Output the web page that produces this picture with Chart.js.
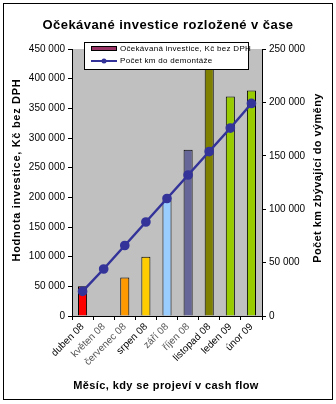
<!DOCTYPE html>
<html>
<head>
<meta charset="utf-8">
<script src="https://cdn.jsdelivr.net/npm/chart.js@4"></script>
<style>
  html, body { margin: 0; padding: 0; background: #fff; }
</style>
</head>
<body>
<canvas id="investChart" width="336" height="404"></canvas>
<script>
// Months when the investment shows up in cash flow
const months = ['duben 08', 'květen 08', 'červenec 08', 'srpen 08', 'září 08', 'říjen 08', 'listopad 08', 'leden 09', 'únor 09'];
// Expected investment per month, CZK without VAT (left axis)
const investment = [50000, null, 65000, 100000, 195000, 280000, 417000, 370000, 380000];
// Kilometres remaining until replacement (right axis)
const kmLeft = [23000, 44000, 66000, 88000, 110000, 132000, 154000, 176000, 199000];

const seriesNames = ['Očekávaná investice, Kč bez DPH', 'Počet km do demontáže'];
const chartTitle = 'Očekávané investice rozložené v čase';
const leftTitle = 'Hodnota investice, Kč bez DPH';
const rightTitle = 'Počet km zbývající do výměny';
const bottomTitle = 'Měsíc, kdy se projeví v cash flow';

const barColors = ['#ff0000', '#ff0000', '#ff9900', '#ffcc00', '#99ccff', '#666699', '#808000', '#99cc00', '#99cc00'];
const FONT = "'Liberation Sans', Arial, sans-serif";

function fmt(v) {
    return String(v).replace(/\B(?=(\d{3})+(?!\d))/g, ' ');
}

function spacedText(ctx, text, x, y, spacing) {
    ctx.letterSpacing = spacing + 'px';
    ctx.fillText(text, x, y);
    ctx.letterSpacing = '0px';
}

// Background, frame, titles and the legend box
const decor = {
    id: 'decor',
    beforeDraw(chart) {
        const { ctx, chartArea: a } = chart;
        ctx.save();
        ctx.fillStyle = '#fff';
        ctx.fillRect(0, 0, chart.width, chart.height);
        ctx.fillStyle = '#c0c0c0';
        ctx.fillRect(a.left, a.top, a.right - a.left, a.bottom - a.top);
        ctx.restore();
    },
    afterDraw(chart) {
        const { ctx } = chart;
        ctx.save();

        // outer frame
        ctx.strokeStyle = '#000';
        ctx.lineWidth = 1;
        ctx.strokeRect(3.5, 3.5, 329, 396);

        // chart title
        ctx.fillStyle = '#000';
        ctx.textAlign = 'center';
        ctx.textBaseline = 'middle';
        ctx.font = 'bold 13px ' + FONT;
        spacedText(ctx, chartTitle, 168, 25, 0.45);

        // axis titles, the vertical ones read bottom to top
        ctx.font = 'bold 11px ' + FONT;
        spacedText(ctx, bottomTitle, 166, 386, 0.4);
        ctx.save();
        ctx.translate(17, 170);
        ctx.rotate(-Math.PI / 2);
        spacedText(ctx, leftTitle, 0, 0, 0.7);
        ctx.restore();
        ctx.save();
        ctx.translate(318, 178);
        ctx.rotate(-Math.PI / 2);
        spacedText(ctx, rightTitle, 0, 0, 0.4);
        ctx.restore();

        // legend
        ctx.fillStyle = '#fff';
        ctx.fillRect(84.5, 42.5, 164, 27);
        ctx.strokeRect(84.5, 42.5, 164, 27);

        ctx.fillStyle = '#993366';
        ctx.fillRect(91, 46, 26, 5);
        ctx.strokeRect(91.5, 46.5, 25, 4);

        ctx.strokeStyle = '#333399';
        ctx.lineWidth = 2;
        ctx.beginPath();
        ctx.moveTo(91, 61);
        ctx.lineTo(117, 61);
        ctx.stroke();
        ctx.fillStyle = '#333399';
        ctx.beginPath();
        ctx.arc(104, 61, 2.5, 0, Math.PI * 2);
        ctx.fill();

        ctx.fillStyle = '#000';
        ctx.textAlign = 'left';
        ctx.font = '8px ' + FONT;
        spacedText(ctx, seriesNames[0], 120, 49, 0.3);
        spacedText(ctx, seriesNames[1], 120, 61, 0.3);

        ctx.restore();
    }
};

const ctx = document.getElementById('investChart').getContext('2d');
new Chart(ctx, {
    data: {
        labels: months,
        datasets: [{
            type: 'line',
            label: seriesNames[1],
            data: kmLeft,
            yAxisID: 'y1',
            order: 0,
            borderColor: '#333399',
            borderWidth: 2.5,
            pointStyle: 'circle',
            pointRadius: 3.6,
            pointBackgroundColor: '#333399',
            pointBorderColor: '#333399',
            tension: 0
        }, {
            type: 'bar',
            label: seriesNames[0],
            data: investment,
            yAxisID: 'y',
            order: 1,
            backgroundColor: barColors,
            borderColor: '#000',
            borderWidth: 1,
            barPercentage: 0.43,
            categoryPercentage: 1
        }]
    },
    options: {
        responsive: false,
        animation: false,
        devicePixelRatio: 1,
        layout: { padding: { top: 49, left: 4, right: 4, bottom: 4 } },
        plugins: {
            legend: { display: false },
            title: { display: false },
            tooltip: { enabled: false }
        },
        scales: {
            x: {
                offset: true,
                border: { display: true, color: '#000' },
                grid: { drawOnChartArea: false, tickLength: 4, color: '#000', offset: true },
                ticks: {
                    autoSkip: false,
                    maxRotation: 45,
                    minRotation: 45,
                    padding: 1,
                    font: { family: FONT, size: 10 },
                    color: c => [1, 2, 4, 5].includes(c.index) ? '#555' : '#000'
                },
                afterFit: s => { s.height = 84; }
            },
            y: {
                position: 'left',
                min: 0,
                max: 450000,
                border: { display: true, color: '#000' },
                grid: { drawOnChartArea: false, tickLength: 4, color: '#000' },
                ticks: {
                    stepSize: 50000,
                    padding: 3,
                    color: '#000',
                    font: { family: FONT, size: 10 },
                    callback: v => fmt(v)
                },
                afterFit: s => { s.width = 68; }
            },
            y1: {
                position: 'right',
                min: 0,
                max: 250000,
                border: { display: true, color: '#000' },
                grid: { drawOnChartArea: false, tickLength: 4, color: '#000' },
                ticks: {
                    stepSize: 50000,
                    padding: 3,
                    color: '#000',
                    font: { family: FONT, size: 10 },
                    callback: v => fmt(v)
                },
                afterFit: s => { s.width = 70; }
            }
        }
    },
    plugins: [decor]
});
</script>
</body>
</html>
